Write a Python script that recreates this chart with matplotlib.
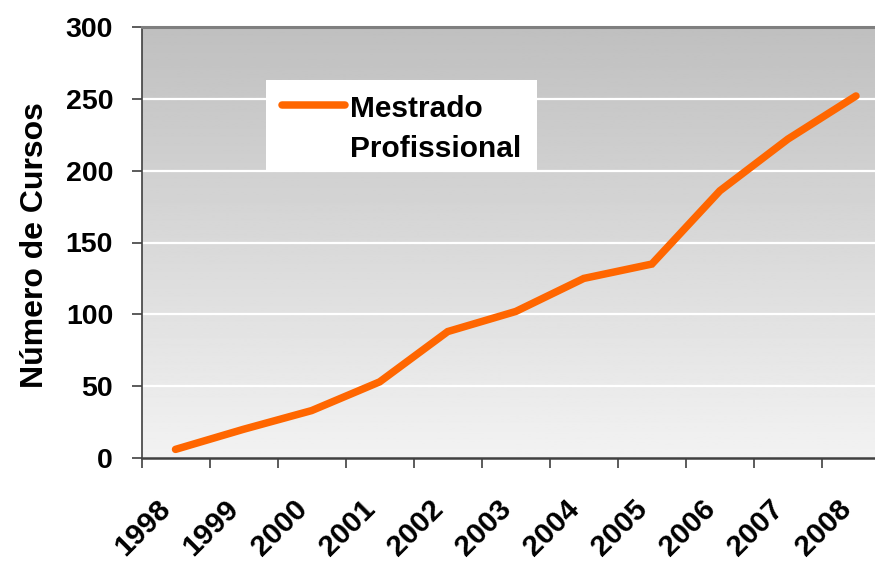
import numpy as np
import matplotlib
matplotlib.use("Agg")
import matplotlib.pyplot as plt
from matplotlib.lines import Line2D
from matplotlib.patches import Rectangle
from matplotlib.transforms import ScaledTranslation

plt.rcParams['font.family'] = ['Liberation Sans', 'DejaVu Sans']
plt.rcParams['font.weight'] = 'bold'

# Número de cursos de Mestrado Profissional por ano
years = ['1998', '1999', '2000', '2001', '2002', '2003',
         '2004', '2005', '2006', '2007', '2008']
cursos = [6, 20, 33, 53, 88, 102, 125, 135, 186, 222, 252]
series_name = ['Mestrado', 'Profissional']
y_ticks = [0, 50, 100, 150, 200, 250, 300]

line_color = '#FF6600'

fig = plt.figure(figsize=(8.75, 5.62), dpi=100)
ax = fig.add_axes([141.5 / 875, 1 - 458 / 562, 748.5 / 875, 431 / 562])

x = np.arange(len(years))
ax.set_xlim(-0.5, len(years) - 0.5)
ax.set_ylim(y_ticks[0], y_ticks[-1])

# vertical gray gradient background (darker at top)
grad = np.linspace(0.95, 0.75, 256).reshape(-1, 1)
ax.imshow(grad, extent=[0, 1, 0, 1], transform=ax.transAxes, cmap='gray',
          vmin=0, vmax=1, aspect='auto', origin='lower', zorder=0)

# horizontal white gridlines
for v in y_ticks[1:-1]:
    ax.axhline(v, color='white', lw=1.6, zorder=1)

ax.plot(x, cursos, color=line_color, lw=5.4, solid_capstyle='round',
        solid_joinstyle='miter', zorder=3)

# spines
ax.spines['right'].set_visible(False)
ax.spines['top'].set_color('#7f7f7f')
ax.spines['top'].set_linewidth(2.2)
ax.spines['left'].set_color('#404040')
ax.spines['left'].set_linewidth(1.2)
ax.spines['bottom'].set_color('#404040')
ax.spines['bottom'].set_linewidth(1.8)

# y axis
ax.set_yticks(y_ticks)
ax.set_yticklabels([str(v) for v in y_ticks])
ax.tick_params(axis='y', direction='out', length=7, width=1.2, color='#404040',
               pad=13.5, labelsize=20.5)
for lbl in ax.get_yticklabels():
    lbl.set_fontweight('bold')

# x axis: labels at category centres, tick marks on category boundaries
ax.set_xticks(x)
ax.set_xticklabels(years, rotation=45, ha='right', va='center',
                   rotation_mode='anchor', fontsize=21.3, fontweight='bold')
ax.tick_params(axis='x', which='major', length=0, pad=33.5)
shift = ScaledTranslation(-0.09, 0, fig.dpi_scale_trans)
for lbl in ax.get_xticklabels():
    lbl.set_transform(lbl.get_transform() + shift)
ax.set_xticks(np.arange(-0.5, len(years), 1.0), minor=True)
ax.tick_params(axis='x', which='minor', direction='out', length=7, width=1.2,
               color='#404040')

ax.set_ylabel('Número de Cursos', fontsize=23, fontweight='bold')
ax.yaxis.set_label_coords(-0.1226, 0.493)

# legend box
ax.add_patch(Rectangle((0.1663, 0.668), 0.3621, 0.209, transform=ax.transAxes,
                       facecolor='white', edgecolor='none', zorder=4))
ax.add_line(Line2D([0.1871, 0.2714], [0.819, 0.819], transform=ax.transAxes,
                   color=line_color, lw=5.4, solid_capstyle='round', zorder=5))
ax.text(0.2786, 0.791, series_name[0], transform=ax.transAxes, fontsize=21.5,
        fontweight='bold', ha='left', va='baseline', zorder=6)
ax.text(0.2786, 0.698, series_name[1], transform=ax.transAxes, fontsize=21.5,
        fontweight='bold', ha='left', va='baseline', zorder=6)

fig.savefig('out.png', dpi=100)
